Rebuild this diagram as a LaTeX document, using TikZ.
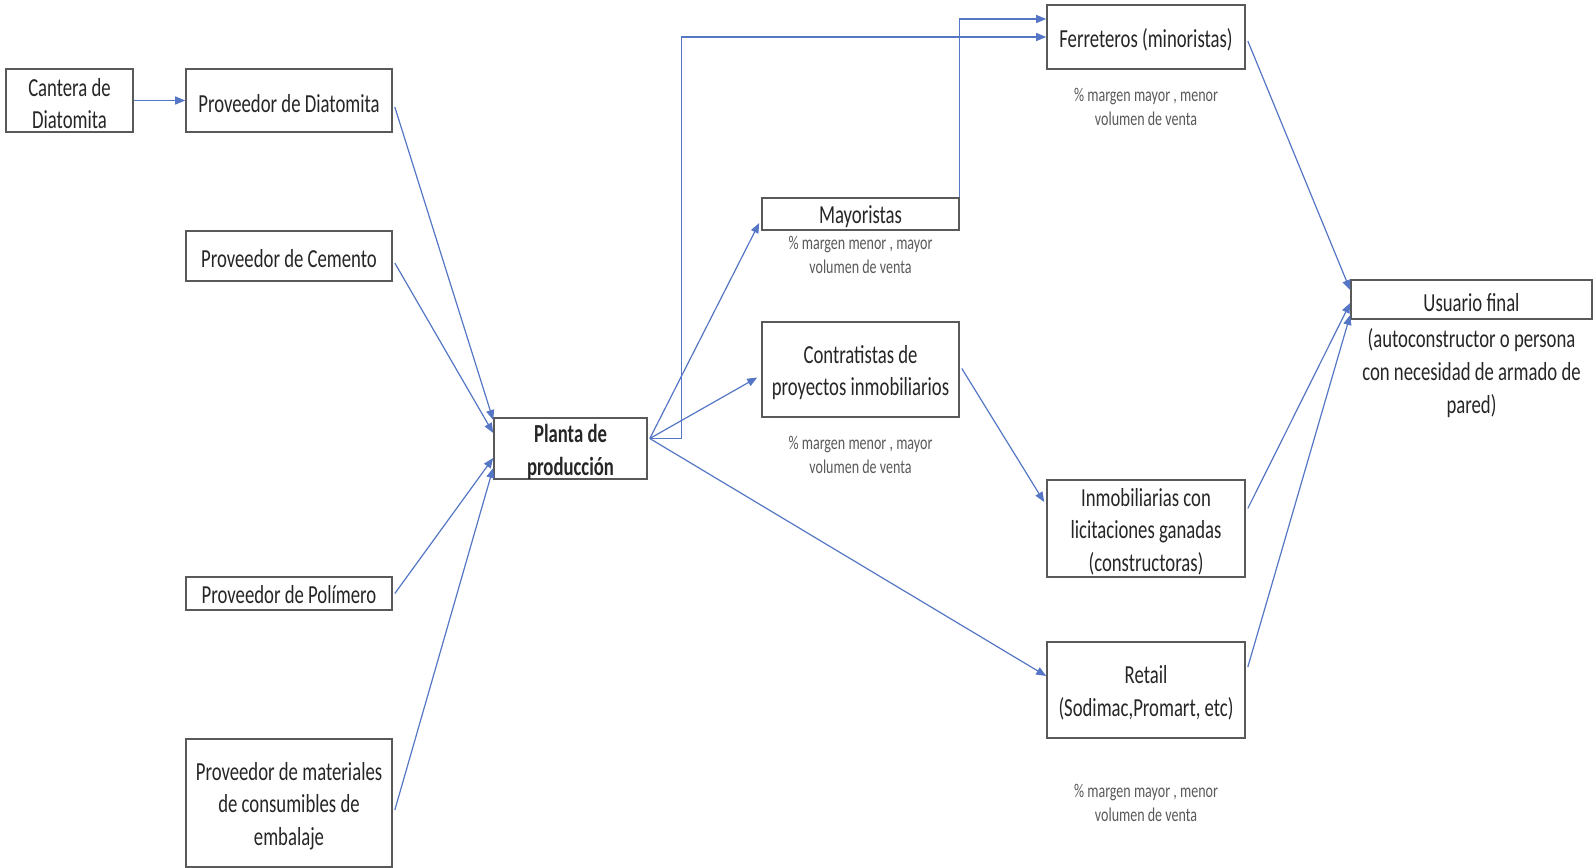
\documentclass[tikz,border=0pt]{standalone}
\usepackage{fontspec}
\setmainfont{Carlito}[FakeStretch=0.72]
\usetikzlibrary{arrows.meta,calc}
\definecolor{conncol}{RGB}{84,118,196}
\definecolor{boxcol}{RGB}{89,89,89}
\definecolor{txtcol}{RGB}{38,38,38}
\definecolor{notecol}{RGB}{89,89,89}
\begin{document}
\begin{tikzpicture}[x=1pt,y=-1pt,
  box/.style={draw=boxcol,line width=1.6pt,fill=white,inner sep=0pt},
  btext/.style={inner sep=0pt,align=center,text=txtcol,
    font={\fontsize{26}{32.5}\selectfont},yshift=-3pt},
  note/.style={inner sep=0pt,align=center,text=notecol,font={\fontsize{19.5}{23.5}\selectfont}},
  plain/.style={inner sep=0pt,align=center,text=txtcol,font={\fontsize{26}{33}\selectfont}},
  conn/.style={draw=conncol,line width=1.2pt,-{Triangle[length=10pt,width=8pt]}}]
\useasboundingbox (0,0) rectangle (1594,867);
% boxes
\node[box,minimum width=127pt,minimum height=63pt,label={[btext]center:Cantera de\\Diatomita}] (can) at (69.5,100.5) {};
\node[box,minimum width=206pt,minimum height=63pt,label={[btext]center:Proveedor de Diatomita}] (dia) at (289,100.5) {};
\node[box,minimum width=206pt,minimum height=50pt,label={[btext]center:Proveedor de Cemento}] (cem) at (289,256) {};
\node[box,minimum width=206pt,minimum height=33pt,label={[btext,yshift=2pt]center:Proveedor de Polímero}] (pol) at (289,593.5) {};
\node[box,minimum width=206pt,minimum height=128pt,label={[btext]center:Proveedor de materiales\\de consumibles de\\embalaje}] (mat) at (289,803) {};
\node[box,minimum width=153pt,minimum height=61pt,label={[btext,yshift=-0.5pt,font={\fontsize{26}{32.5}\selectfont\bfseries}]center:Planta de\\producción}] (pla) at (570.5,448.5) {};
\node[box,minimum width=197pt,minimum height=32pt,label={[btext]center:Mayoristas}] (may) at (860.5,214) {};
\node[note] (nmay) at (860.5,255) {\% margen menor , mayor\\volumen de venta};
\node[box,minimum width=197pt,minimum height=95pt,label={[btext]center:Contratistas de\\proyectos inmobiliarios}] (con) at (860.5,369.5) {};
\node[note] (ncon) at (860.5,455) {\% margen menor , mayor\\volumen de venta};
\node[box,minimum width=198pt,minimum height=64pt,label={[btext]center:Ferreteros (minoristas)}] (fer) at (1146,37) {};
\node[note] (nfer) at (1146,107) {\% margen mayor , menor\\volumen de venta};
\node[box,minimum width=198pt,minimum height=97pt,label={[btext]center:Inmobiliarias con\\licitaciones ganadas\\(constructoras)}] (inm) at (1146,528.5) {};
\node[box,minimum width=198pt,minimum height=96pt,label={[btext]center:Retail\\(Sodimac,Promart, etc)}] (ret) at (1146,690) {};
\node[note] (nret) at (1146,803) {\% margen mayor , menor\\volumen de venta};
\node[box,minimum width=241pt,minimum height=39pt,label={[btext]center:Usuario final}] (usu) at (1471.5,299.5) {};
\node[plain] (usut) at (1471.5,373.5) {(autoconstructor o persona\\con necesidad de armado de\\pared)};
% connectors
\draw[conn] (can.east) -- (dia.west);
\draw[conn] ($(dia.east)+(2,6.5)$) -- ($(pla.west)+(0,-28.5)$);
\draw[conn] ($(cem.east)+(2,7)$) -- ($(pla.west)+(0,-15.5)$);
\draw[conn] ($(pol.east)+(2,0)$) -- ($(pla.west)+(0,9.5)$);
\draw[conn] ($(mat.east)+(2,7)$) -- ($(pla.west)+(0,19.5)$);
\coordinate (pout) at ($(pla.east)+(2,-10)$);
\draw[conn] (pout) -- ($(may.west)+(-2,9)$);
\draw[conn] (pout) -- ($(con.west)+(-4,8)$);
\draw[conn] (pout) -- ($(ret.west)+(0,-14)$);
\draw[conn] (pout) -- ++(32,0) |- (fer.west);
\draw[conn] (may.north east) |- ($(fer.west)+(0,-18)$);
\draw[conn] ($(con.east)+(2,-1)$) -- ($(inm.west)+(-2,-26.5)$);
\draw[conn] ($(fer.east)+(2,4)$) -- ($(usu.west)+(0,-9.5)$);
\draw[conn] ($(inm.east)+(2,-20)$) -- ($(usu.west)+(0,3.5)$);
\draw[conn] ($(ret.east)+(2,-23)$) -- ($(usu.west)+(0,15.5)$);
\end{tikzpicture}
\end{document}
